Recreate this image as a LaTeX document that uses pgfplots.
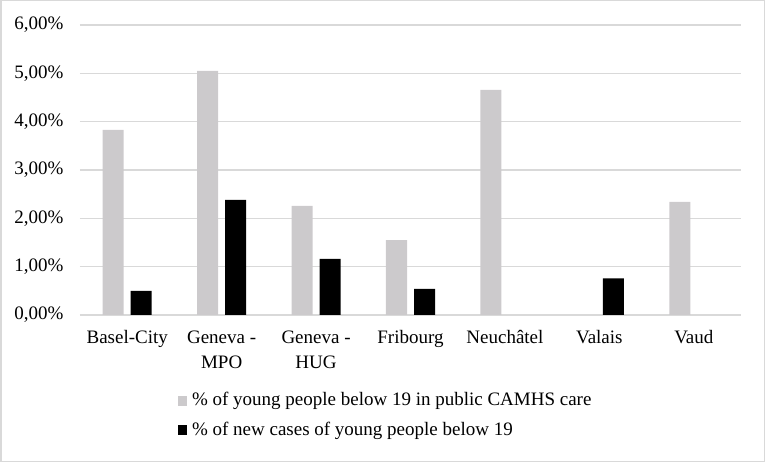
\documentclass[border=0pt]{standalone}
\usepackage{pgfplots}
\pgfplotsset{compat=1.18}
\usepackage{fontspec}
\setmainfont{Liberation Serif}
\definecolor{barg}{RGB}{204,202,204}
\definecolor{gridc}{RGB}{217,217,217}
\begin{document}
\fontsize{19bp}{25bp}\selectfont
\begin{tikzpicture}
\draw[gridc, line width=1.5bp] (0.75bp,0.75bp) rectangle (764.25bp,461.25bp);
\begin{axis}[
  at={(80bp,147bp)}, anchor=south west,
  scale only axis, width=661bp, height=290bp,
  xmin=-0.5, xmax=6.5, ymin=0, ymax=6,
  axis line style={draw=none},
  ybar=7bp, bar width=21bp,
  xtick={0,1,2,3,4,5,6}, major tick length=0pt,
  xticklabels={Basel-City,{Geneva -\\MPO},{Geneva -\\HUG},Fribourg,Neuchâtel,Valais,Vaud},
  xticklabel style={align=center, font=\fontsize{19bp}{25bp}\selectfont, yshift=-9bp},
  ytick={0,1,2,3,4,5,6},
  yticklabels={{0,00\%},{1,00\%},{2,00\%},{3,00\%},{4,00\%},{5,00\%},{6,00\%}},
  yticklabel style={font=\fontsize{19bp}{25bp}\selectfont, xshift=-10bp},
  ymajorgrids, grid style={gridc, line width=1.2bp},
  /pgf/number format/assume math mode=true,
  legend style={at={(0.148,-0.26)}, anchor=north west, draw=none, fill=none,
    font=\fontsize{19bp}{25bp}\selectfont, row sep=9bp, inner sep=0pt,
    nodes={inner xsep=5bp}},
  legend cell align=left,
  legend image code/.code={\fill[#1] (0bp,-5bp) rectangle (9bp,5bp);},
]
\addplot[fill=barg, draw=none] coordinates {(0,3.83) (1,5.05) (2,2.26) (3,1.55) (4,4.66) (6,2.34)};
\addplot[fill=black, draw=none] coordinates {(0,0.50) (1,2.38) (2,1.16) (3,0.54) (5,0.76)};
\legend{\% of young people below 19 in public CAMHS care, \% of new cases of young people below 19}
\end{axis}
\end{tikzpicture}
\end{document}
